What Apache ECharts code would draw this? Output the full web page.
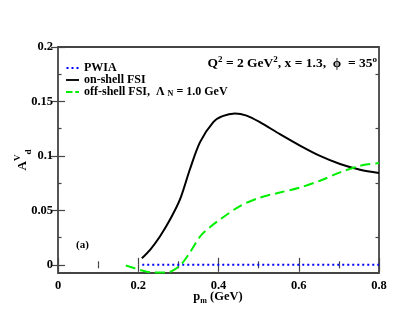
<!DOCTYPE html>
<html>
<head>
<meta charset="utf-8">
<script src="https://cdn.jsdelivr.net/npm/echarts@6/dist/echarts.min.js"></script>
<style>
  html, body { margin: 0; padding: 0; background: #fff; }
  #main { width: 417px; height: 322px; }
</style>
</head>
<body>
<div id="main"></div>
<script>
// tick values
const yTicks = [0, 0.05, 0.1, 0.15, 0.2]
const yMinorTicks = [0.025, 0.075, 0.125, 0.175]

// PWIA (flat at zero)
const pwiaP = [0.21, 0.8]
const pwiaA = [0, 0]

// on-shell FSI
const onShellP = [0.209, 0.23, 0.254, 0.28, 0.304, 0.329, 0.354, 0.387, 0.41, 0.441, 0.47, 0.503, 0.553, 0.603, 0.653, 0.703, 0.753, 0.8]
const onShellA = [0.006, 0.014, 0.026, 0.042, 0.060, 0.088, 0.1127, 0.131, 0.1365, 0.139, 0.137, 0.131, 0.120, 0.1095, 0.100, 0.0926, 0.0873, 0.0843]

// off-shell FSI, Lambda_N = 1.0 GeV
const offShellP = [0.169, 0.204, 0.2375, 0.271, 0.304, 0.33, 0.354, 0.38, 0.404, 0.4536, 0.503, 0.553, 0.603, 0.653, 0.703, 0.753, 0.8]
const offShellA = [-0.0006, -0.0046, -0.0071, -0.0071, -0.0006, 0.012, 0.026, 0.035, 0.0417, 0.054, 0.0617, 0.0664, 0.071, 0.0772, 0.0849, 0.091, 0.0935]

const zip = (xs, ys) => xs.map((x, i) => [x, ys[i]])
const font = 'Liberation Serif'
const frameColor = '#444'
const green = '#00ee00'

const chart = echarts.init(document.getElementById('main'))

const tickStyle = {show: true, inside: true, length: 7, lineStyle: {color: frameColor, width: 1.2}}
const minorStyle = {show: true, inside: true, length: 3.5, lineStyle: {color: frameColor, width: 1.2}}
const labelStyle = {fontFamily: font, fontWeight: 'bold', fontSize: 12.5, color: '#000'}

// legend line samples
const dottedIcon = 'path://M0,0h2v2h-2z M5,0h2v2h-2z M10,0h2v2h-2z'
const solidIcon = 'path://M0,0h14v2h-14z'
const dashedIcon = 'path://M0,0h7v2h-7z M10,0h4v2h-4z'

const option = {
  animation: false,
  grid: {
    left: 58, right: 38, top: 47, bottom: 49,
    show: true, borderColor: frameColor, borderWidth: 1.8
  },
  legend: {
    orient: 'vertical',
    left: 66, top: 62, padding: 0,
    itemWidth: 13, itemHeight: 2, itemGap: 0,
    data: [
      {name: 'PWIA', icon: dottedIcon},
      {name: 'on-shell FSI', icon: solidIcon},
      {name: 'off-shell FSI', icon: dashedIcon}
    ],
    formatter: function (name) {
      if (name === 'off-shell FSI') {
        return '{n|off-shell FSI,  Λ }{s|N}{n| = 1.0 GeV}'
      }
      return '{n|' + name + '}'
    },
    textStyle: {
      rich: {
        n: {fontFamily: font, fontWeight: 'bold', fontSize: 12, color: '#000', lineHeight: 12.5, verticalAlign: 'middle'},
        s: {fontFamily: font, fontWeight: 'bold', fontSize: 8, color: '#000', lineHeight: 8, verticalAlign: 'bottom'}
      }
    }
  },
  xAxis: [
    {
      type: 'value', min: 0, max: 0.8, interval: 0.2, position: 'bottom',
      axisLine: {show: false},
      axisTick: tickStyle,
      minorTick: Object.assign({splitNumber: 2}, minorStyle),
      splitLine: {show: false},
      axisLabel: Object.assign({margin: 6}, labelStyle)
    },
    {
      type: 'value', min: 0, max: 0.8, interval: 0.2, position: 'top',
      axisLine: {show: false},
      axisTick: tickStyle,
      minorTick: Object.assign({splitNumber: 2}, minorStyle),
      splitLine: {show: false},
      axisLabel: {show: false}
    }
  ],
  yAxis: [
    {
      type: 'value', min: -0.0075, max: 0.2, position: 'left',
      axisLine: {show: false},
      axisTick: Object.assign({customValues: yTicks}, tickStyle),
      splitLine: {show: false},
      axisLabel: Object.assign({customValues: yTicks, margin: 5}, labelStyle)
    },
    {
      type: 'value', min: -0.0075, max: 0.2, position: 'right',
      axisLine: {show: false},
      axisTick: Object.assign({customValues: yTicks}, tickStyle),
      splitLine: {show: false},
      axisLabel: {show: false}
    },
    {
      type: 'value', min: -0.0075, max: 0.2, position: 'left',
      axisLine: {show: false},
      axisTick: Object.assign({customValues: yMinorTicks}, minorStyle),
      splitLine: {show: false},
      axisLabel: {show: false}
    },
    {
      type: 'value', min: -0.0075, max: 0.2, position: 'right',
      axisLine: {show: false},
      axisTick: Object.assign({customValues: yMinorTicks}, minorStyle),
      splitLine: {show: false},
      axisLabel: {show: false}
    }
  ],
  series: [
    {
      name: 'PWIA', type: 'line', showSymbol: false, symbol: 'none',
      data: zip(pwiaP, pwiaA),
      lineStyle: {color: '#0000ff', width: 2, type: [2, 3]},
      itemStyle: {color: '#0000ff'}
    },
    {
      name: 'on-shell FSI', type: 'line', showSymbol: false, symbol: 'none', smooth: 0.3,
      data: zip(onShellP, onShellA),
      lineStyle: {color: '#000', width: 2},
      itemStyle: {color: '#000'}
    },
    {
      name: 'off-shell FSI', type: 'line', showSymbol: false, symbol: 'none', smooth: 0.3,
      data: zip(offShellP, offShellA),
      lineStyle: {color: green, width: 2, type: [10, 5]},
      itemStyle: {color: green}
    }
  ],
  graphic: [
    {
      type: 'text', x: 23, y: 160, rotation: Math.PI / 2,
      style: {
        text: '{n|A}{u|V}{s|d}',
        align: 'center', verticalAlign: 'middle',
        rich: {
          n: {fontFamily: font, fontWeight: 'bold', fontSize: 13, lineHeight: 20, verticalAlign: 'middle', fill: '#000'},
          u: {fontFamily: font, fontWeight: 'bold', fontSize: 9, lineHeight: 9, verticalAlign: 'top', fill: '#000'},
          s: {fontFamily: font, fontWeight: 'bold', fontSize: 9, lineHeight: 9, verticalAlign: 'bottom', fill: '#000'}
        }
      }
    },
    {
      type: 'text', x: 218, y: 297,
      style: {
        text: '{n|p}{s|m}{n| (GeV)}',
        align: 'center', verticalAlign: 'middle',
        rich: {
          n: {fontFamily: font, fontWeight: 'bold', fontSize: 12.5, lineHeight: 16, verticalAlign: 'middle', fill: '#000'},
          s: {fontFamily: font, fontWeight: 'bold', fontSize: 8, lineHeight: 8, verticalAlign: 'bottom', fill: '#000'}
        }
      }
    },
    {
      type: 'text', x: 377, y: 64,
      style: {
        text: '{n|Q}{u|2}{n| = 2 GeV}{u|2}{n|, x = 1.3,  ϕ  = 35}{u|o}',
        align: 'right', verticalAlign: 'middle',
        rich: {
          n: {fontFamily: font, fontWeight: 'bold', fontSize: 13.5, lineHeight: 18, verticalAlign: 'middle', fill: '#000'},
          u: {fontFamily: font, fontWeight: 'bold', fontSize: 9, lineHeight: 9, verticalAlign: 'top', fill: '#000'}
        }
      }
    },
    {
      type: 'text', x: 76, y: 245,
      style: {
        text: '(a)', fontFamily: font, fontWeight: 'bold', fontSize: 11,
        verticalAlign: 'middle', fill: '#000'
      }
    }
  ]
}

chart.setOption(option)
</script>
</body>
</html>
